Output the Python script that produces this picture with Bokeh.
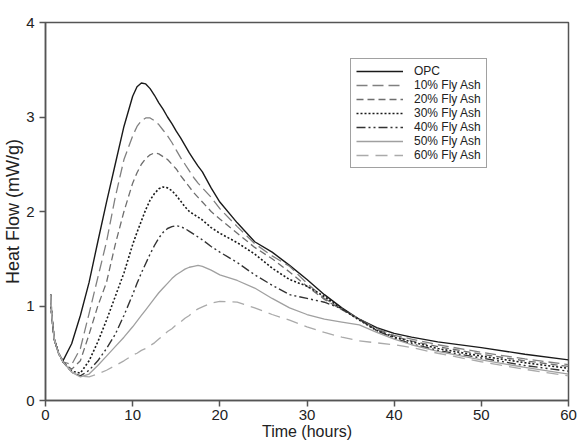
from bokeh.plotting import figure
from bokeh.models import ColumnDataSource, Legend, LegendItem, FixedTicker
from bokeh.embed import file_html
from bokeh.resources import INLINE

# ---- data ----
time_h = [0.6, 0.7, 1, 1.5, 2, 3, 4, 5, 6, 7, 8, 9,
          10, 10.5, 11, 11.5, 12, 12.5, 13, 13.5, 14, 14.5, 15, 15.5, 16, 16.5, 17, 17.5, 18,
          19, 20, 22, 24, 26, 28, 30, 32, 34, 36, 38, 40, 42, 45, 50, 55, 60]

opc = [1.12, 0.92, 0.65, 0.50, 0.42, 0.60, 0.90, 1.25, 1.68, 2.10, 2.50, 2.90,
       3.22, 3.32, 3.36, 3.35, 3.30, 3.23, 3.15, 3.08, 3.00, 2.93, 2.85, 2.78, 2.70, 2.62, 2.55, 2.48, 2.42,
       2.25, 2.10, 1.88, 1.68, 1.57, 1.43, 1.28, 1.12, 0.98, 0.86, 0.77, 0.71, 0.67, 0.62, 0.56, 0.49, 0.43]
fa10 = [1.12, 0.92, 0.65, 0.50, 0.41, 0.38, 0.55, 0.92, 1.30, 1.68, 2.15, 2.55,
        2.80, 2.90, 2.96, 2.99, 2.99, 2.96, 2.92, 2.86, 2.80, 2.73, 2.65, 2.57, 2.50, 2.43, 2.36, 2.30, 2.25,
        2.15, 2.03, 1.84, 1.66, 1.53, 1.42, 1.24, 1.08, 0.97, 0.86, 0.76, 0.69, 0.65, 0.59, 0.51, 0.44, 0.38]
fa20 = [1.12, 0.92, 0.65, 0.50, 0.41, 0.33, 0.42, 0.70, 1.00, 1.25, 1.65, 2.00,
        2.30, 2.41, 2.50, 2.56, 2.60, 2.62, 2.61, 2.58, 2.55, 2.50, 2.45, 2.38, 2.32, 2.26, 2.20, 2.15, 2.10,
        2.00, 1.92, 1.77, 1.62, 1.50, 1.36, 1.21, 1.07, 0.96, 0.86, 0.75, 0.68, 0.63, 0.57, 0.49, 0.42, 0.36]
fa30 = [1.12, 0.92, 0.65, 0.50, 0.41, 0.31, 0.29, 0.42, 0.62, 0.85, 1.10, 1.35,
        1.65, 1.78, 1.90, 2.02, 2.12, 2.19, 2.24, 2.26, 2.25, 2.22, 2.17, 2.11, 2.05, 2.00, 1.97, 1.94, 1.91,
        1.83, 1.77, 1.67, 1.55, 1.40, 1.28, 1.21, 1.10, 0.97, 0.85, 0.74, 0.67, 0.62, 0.55, 0.47, 0.40, 0.34]
fa40 = [1.12, 0.92, 0.65, 0.50, 0.41, 0.30, 0.26, 0.32, 0.42, 0.55, 0.70, 0.90,
        1.12, 1.24, 1.35, 1.45, 1.55, 1.64, 1.72, 1.78, 1.82, 1.84, 1.85, 1.84, 1.82, 1.79, 1.76, 1.73, 1.70,
        1.63, 1.57, 1.46, 1.33, 1.22, 1.12, 1.08, 1.04, 0.97, 0.86, 0.74, 0.66, 0.60, 0.53, 0.45, 0.37, 0.31]
fa50 = [1.12, 0.92, 0.65, 0.50, 0.41, 0.30, 0.25, 0.28, 0.37, 0.47, 0.57, 0.67,
        0.78, 0.84, 0.90, 0.96, 1.02, 1.08, 1.14, 1.19, 1.24, 1.29, 1.33, 1.36, 1.39, 1.41, 1.42, 1.43, 1.42,
        1.38, 1.33, 1.27, 1.19, 1.08, 0.98, 0.91, 0.86, 0.83, 0.80, 0.72, 0.65, 0.59, 0.52, 0.43, 0.35, 0.28]
fa60 = [1.12, 0.92, 0.65, 0.50, 0.41, 0.30, 0.26, 0.25, 0.28, 0.32, 0.37, 0.42,
        0.48, 0.50, 0.53, 0.55, 0.58, 0.61, 0.65, 0.69, 0.73, 0.76, 0.80, 0.83, 0.87, 0.90, 0.94, 0.97, 0.99,
        1.03, 1.05, 1.04, 0.98, 0.91, 0.85, 0.78, 0.72, 0.67, 0.63, 0.61, 0.59, 0.56, 0.50, 0.41, 0.33, 0.26]

series_names = ["OPC", "10% Fly Ash", "20% Fly Ash", "30% Fly Ash",
                "40% Fly Ash", "50% Fly Ash", "60% Fly Ash"]
series_values = [opc, fa10, fa20, fa30, fa40, fa50, fa60]
x_ticks = [0, 10, 20, 30, 40, 50, 60]
y_ticks = [0, 1, 2, 3, 4]

# ---- styles ----
colors = ["#1a1a1a", "#808080", "#6e6e6e", "#1a1a1a", "#333333", "#a0a0a0", "#aaaaaa"]
dashes = ["solid", "11 5", "7 4", "2 2", "9 3 2 3 2 3", "solid", "12 7"]
widths = [1.4, 1.3, 1.3, 1.6, 1.4, 1.3, 1.3]

FONT = "Liberation Sans"

p = figure(width=581, height=442, x_range=(0, 60), y_range=(0, 4),
           output_backend="svg", toolbar_location=None,
           min_border_left=0, min_border_right=13, min_border_top=22, min_border_bottom=0)

p.background_fill_color = "white"
p.border_fill_color = "white"
p.grid.visible = False
p.outline_line_color = "#555555"
p.outline_line_width = 1.5

items = []
for name, vals, c, d, w in zip(series_names, series_values, colors, dashes, widths):
    src = ColumnDataSource(dict(x=time_h, y=vals))
    r = p.line("x", "y", source=src, line_color=c, line_dash=d, line_width=w)
    items.append(LegendItem(label=name, renderers=[r]))

for ax in (p.xaxis[0], p.yaxis[0]):
    ax.axis_line_color = "#555555"
    ax.axis_line_width = 1.5
    ax.major_tick_line_color = "#555555"
    ax.major_tick_line_width = 1.5
    ax.major_tick_out = 6
    ax.major_tick_in = 0
    ax.minor_tick_line_color = None
    ax.major_label_text_font = FONT
    ax.major_label_text_font_size = "15px"
    ax.major_label_text_color = "#222222"
    ax.axis_label_text_font = FONT
    ax.axis_label_text_font_size = "16px"
    ax.axis_label_text_font_style = "normal"
    ax.axis_label_text_color = "#222222"

p.yaxis[0].axis_label_text_font_size = "18px"
p.xaxis[0].ticker = FixedTicker(ticks=x_ticks)
p.yaxis[0].ticker = FixedTicker(ticks=y_ticks)
p.xaxis[0].axis_label = "Time (hours)"
p.yaxis[0].axis_label = "Heat Flow (mW/g)"
p.xaxis[0].major_label_standoff = 3
p.yaxis[0].major_label_standoff = 5
p.yaxis[0].axis_label_standoff = 0
p.xaxis[0].axis_label_standoff = 0

legend = Legend(items=items, location=(305, 232))
legend.label_text_font = FONT
legend.label_text_font_size = "12px"
legend.label_text_color = "#222222"
legend.glyph_width = 47
legend.glyph_height = 14
legend.label_height = 14
legend.label_standoff = 11
legend.spacing = 0
legend.padding = 5
legend.margin = 0
legend.border_line_color = "#444444"
legend.border_line_width = 1
legend.background_fill_color = "white"
legend.background_fill_alpha = 1.0
p.add_layout(legend, "center")

open("out.html", "w").write(file_html(p, INLINE))
